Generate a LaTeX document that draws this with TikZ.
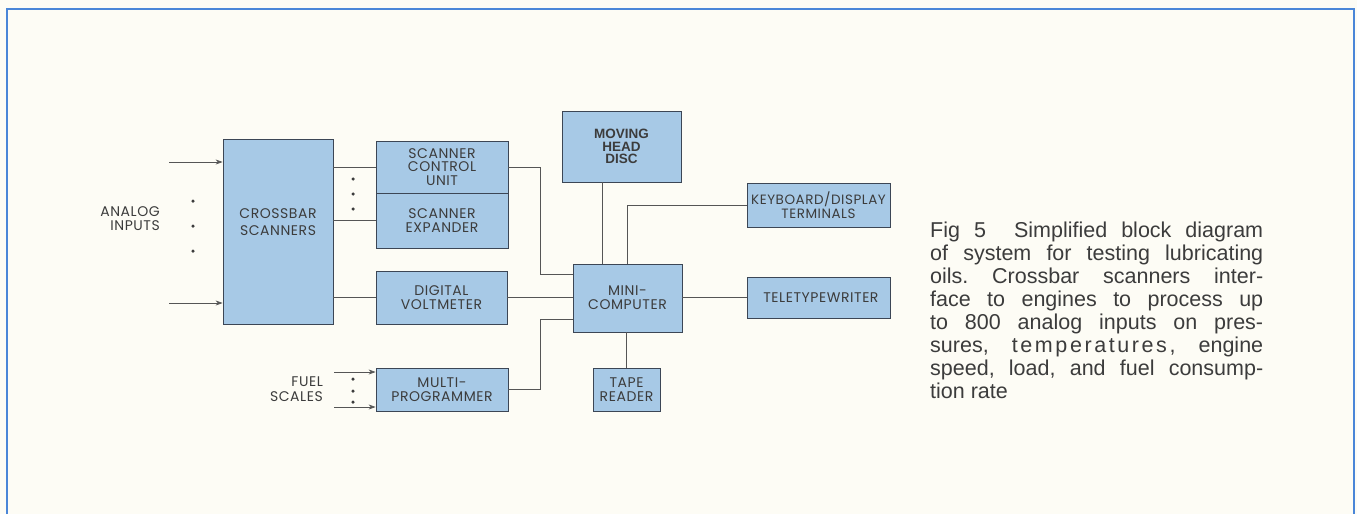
\documentclass[tikz,border=0pt]{standalone}
\usepackage{fontspec}
\setmainfont{Liberation Sans}
\newfontfamily\boxfont[LetterSpace=4]{Poppins}
\newfontfamily\capfont{Liberation Sans}
\usetikzlibrary{arrows.meta,calc}
\definecolor{bgcol}{RGB}{253,252,245}
\definecolor{boxfill}{RGB}{167,201,230}
\definecolor{boxline}{RGB}{60,70,85}
\definecolor{wire}{RGB}{85,85,85}
\definecolor{txt}{RGB}{60,60,60}
\definecolor{framecol}{RGB}{74,134,216}
\tikzset{
  blk/.style={draw=boxline, fill=boxfill, line width=0.8pt, inner sep=0pt, align=center,
    text=txt, font=\boxfont\fontsize{14}{13.7}\selectfont},
  wireline/.style={draw=wire, line width=0.7pt},
  arr/.style={wireline, -{Stealth[length=7pt,width=5pt]}},
  dotmark/.style={fill=txt, draw=none, circle, inner sep=0pt, minimum size=3.5pt},
  lbl/.style={text=txt, align=right, inner sep=0pt, font=\boxfont\fontsize{14}{14.5}\selectfont}
}
\begin{document}
\begin{tikzpicture}[x=1pt,y=-1pt]
\useasboundingbox (0,0) rectangle (1357,514);
\fill[bgcol] (0,0) rectangle (1357,514);
\draw[framecol, line width=2.5pt] (7,514) -- (7,9) -- (1354,9) -- (1354,514);

% blocks
\node[blk, minimum width=110pt, minimum height=185pt] (cross) at (278,231.5) {};
\node[text=txt, align=center, inner sep=0pt, font=\boxfont\fontsize{14}{17.5}\selectfont] (crosstext) at (278,222) {CROSSBAR\\SCANNERS};
\node[blk, minimum width=132pt, minimum height=52pt] (scu) at (442,167) {SCANNER\\CONTROL\\UNIT};
\node[blk, minimum width=132pt, minimum height=55pt] (exp) at (442,220.5) {SCANNER\\EXPANDER};
\node[blk, minimum width=131pt, minimum height=53pt] (dvm) at (441.5,297.5) {DIGITAL\\VOLTMETER};
\node[blk, minimum width=109pt, minimum height=68pt] (mini) at (627.5,298) {MINI-\\COMPUTER};
\node[blk, minimum width=132pt, minimum height=43pt] (multi) at (442,389.5) {MULTI-\\PROGRAMMER};
\node[blk, minimum width=67pt, minimum height=43pt] (tape) at (626.5,389.5) {TAPE\\READER};
\node[blk, minimum width=119pt, minimum height=71pt, font=\capfont\bfseries\fontsize{13.5}{12.7}\selectfont] (disc) at (621.5,146.5) {MOVING\\HEAD\\DISC};
\node[blk, minimum width=143pt, minimum height=44pt, font=\boxfont\fontsize{13.5}{13.7}\selectfont] (kb) at (818.5,205) {KEYBOARD/DISPLAY\\TERMINALS};
\node[blk, minimum width=143pt, minimum height=41pt, align=left, anchor=west] (tty) at (747,297.5) {\hspace{4pt}TELETYPEWRITER};

% labels
\node[lbl, anchor=east] (analog) at (160,218.5) {ANALOG\\INPUTS};
\node[lbl, anchor=east] (fuel) at (323,389) {FUEL\\SCALES};

% dots
\node[dotmark] (d1) at (193,201) {};
\node[dotmark] (d2) at (193,226) {};
\node[dotmark] (d3) at (193,251) {};
\node[dotmark] (d4) at (353,179) {};
\node[dotmark] (d5) at (353,194) {};
\node[dotmark] (d6) at (353,209) {};
\node[dotmark] (d7) at (353,379) {};
\node[dotmark] (d8) at (353,391) {};
\node[dotmark] (d9) at (353,402) {};

% input arrows
\coordinate (a1) at (169,162);
\coordinate (a2) at (169,303);
\coordinate (f1) at (334,372);
\coordinate (f2) at (334,407);
\draw[arr] (a1) -- (a1 -| cross.west);
\draw[arr] (a2) -- (a2 -| cross.west);
\draw[arr] (f1) -- (f1 -| multi.west);
\draw[arr] (f2) -- (f2 -| multi.west);

% connectors
\draw[wireline] (scu.west -| cross.east) -- (scu.west);
\draw[wireline] (exp.west -| cross.east) -- (exp.west);
\draw[wireline] (dvm.west -| cross.east) -- (dvm.west);
\draw[wireline] (dvm.east) -- (dvm.east -| mini.west);
\coordinate (j1) at (540,274);
\coordinate (j2) at (540,319);
\draw[wireline] (scu.east) -| (j1) -- (j1 -| mini.west);
\draw[wireline] (multi.east) -| (j2) -- (j2 -| mini.west);
\coordinate (dx) at (602,0);
\draw[wireline] (disc.south -| dx) -- (mini.north -| dx);
\draw[wireline] (mini.north) |- (kb.west);
\draw[wireline] (tty.west -| mini.east) -- (tty.west);
\draw[wireline] (mini.south -| tape.north) -- (tape.north);

% caption
\node[anchor=north west, inner sep=0pt, text width=333pt, align=justify, text=txt,
      font=\capfont\fontsize{21.5}{23}\selectfont] (cap) at (930,222)
{\frenchspacing Fig 5\ \ Simplified block diagram\linebreak
of system for testing lubricating\linebreak
oils. Crossbar scanners inter-\linebreak
face to engines to process up\linebreak
to 800 analog inputs on pres-\linebreak
sures, {\addfontfeature{LetterSpace=12}temperatures,} engine\linebreak
speed, load, and fuel consump-\linebreak
tion rate\par};
\end{tikzpicture}
\end{document}
